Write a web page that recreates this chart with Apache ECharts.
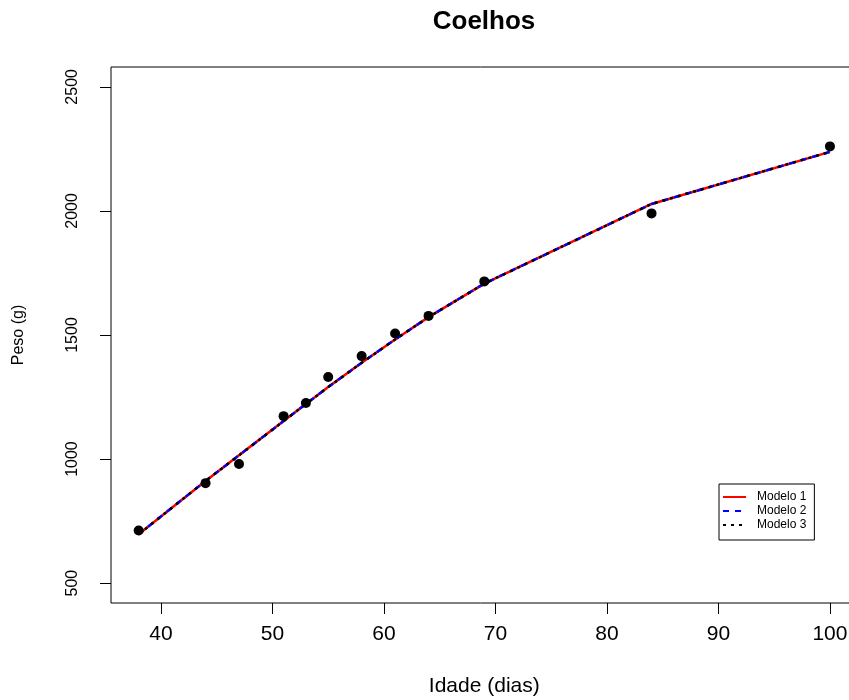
<!DOCTYPE html>
<html>
<head>
<meta charset="utf-8">
<script src="https://cdn.jsdelivr.net/npm/echarts@6/dist/echarts.min.js"></script>
<style>
html,body{margin:0;padding:0;background:#fff;}
#c{width:849px;height:700px;}
</style>
</head>
<body>
<div id="c"></div>
<script>
// Observed data
const idade = [38, 44, 47, 51, 53, 55, 58, 61, 64, 69, 84, 100];
const peso = [712, 903, 980, 1173, 1226, 1331, 1415, 1506, 1577, 1716, 1990, 2260];
// Fitted curves
const modelo1 = [697, 912, 1015, 1153, 1222, 1290, 1388, 1482, 1572, 1707, 2028, 2238];
const modelo2 = [697, 912, 1015, 1153, 1222, 1290, 1388, 1482, 1572, 1707, 2028, 2238];
const modelo3 = [697, 912, 1015, 1153, 1222, 1290, 1388, 1482, 1572, 1707, 2028, 2238];
const xTicks = [40, 50, 60, 70, 80, 90, 100];
const yTicks = [500, 1000, 1500, 2000, 2500];

const pairs = (xs, ys) => xs.map((x, i) => [x, ys[i]]);
const FONT = 'Liberation Sans, Arial, sans-serif';

const chart = echarts.init(document.getElementById('c'), null, {renderer: 'canvas'});
chart.setOption({
  animation: false,
  backgroundColor: '#ffffff',
  title: {
    text: 'Coelhos',
    left: 484, top: 9, textAlign: 'center', padding: 0,
    textStyle: {fontFamily: FONT, fontWeight: 'bold', fontSize: 26, color: '#000'}
  },
  grid: {
    left: 111, top: 67, width: 746.6, height: 536,
    outerBoundsMode: 'none', containLabel: false,
    show: true, borderColor: '#000', borderWidth: 1, backgroundColor: 'transparent'
  },
  xAxis: {
    type: 'value', min: 35.52, max: 102.48,
    name: 'Idade (dias)', nameLocation: 'middle', nameGap: 73,
    nameTextStyle: {fontFamily: FONT, fontSize: 21, color: '#000'},
    axisLine: {show: false},
    splitLine: {show: false},
    axisTick: {show: true, length: 11, customValues: xTicks, lineStyle: {color: '#000'}},
    axisLabel: {customValues: xTicks, margin: 21, fontFamily: FONT, fontSize: 21, color: '#000',
      formatter: v => String(v)}
  },
  yAxis: {
    type: 'value', min: 420, max: 2580,
    name: 'Peso (g)', nameLocation: 'middle', nameGap: 84, nameRotate: 90,
    nameTextStyle: {fontFamily: FONT, fontSize: 16, color: '#000'},
    axisLine: {show: false},
    splitLine: {show: false},
    axisTick: {show: true, length: 11, customValues: yTicks, lineStyle: {color: '#000'}},
    axisLabel: {customValues: yTicks, rotate: 90, margin: 30, fontFamily: FONT, fontSize: 16, color: '#000',
      formatter: v => String(v)}
  },
  legend: {
    orient: 'vertical', left: 719, top: 484,
    data: ['Modelo 1', 'Modelo 2', 'Modelo 3'],
    backgroundColor: '#fff', borderColor: '#000', borderWidth: 1,
    padding: [7, 8, 9, 3], itemGap: 2, itemWidth: 23, itemHeight: 12,
    itemStyle: {opacity: 0},
    textStyle: {fontFamily: FONT, fontSize: 12, color: '#000', padding: [0, 0, 0, 6]}
  },
  series: [
    {
      name: 'Modelo 1', type: 'line', data: pairs(idade, modelo1),
      symbol: 'none', lineStyle: {color: '#ff0000', width: 2.5, type: 'solid'},
      itemStyle: {color: '#ff0000'}, z: 2
    },
    {
      name: 'Modelo 2', type: 'line', data: pairs(idade, modelo2),
      symbol: 'none', lineStyle: {color: '#0000ff', width: 2.5, type: [6, 6]},
      itemStyle: {color: '#0000ff'}, z: 3
    },
    {
      name: 'Modelo 3', type: 'line', data: pairs(idade, modelo3),
      symbol: 'none', lineStyle: {color: '#000000', width: 2.5, type: [3, 5]},
      itemStyle: {color: '#000000'}, z: 4
    },
    {
      name: 'Observado', type: 'scatter', data: pairs(idade, peso),
      symbol: 'circle', symbolSize: 10, itemStyle: {color: '#000', opacity: 1}, z: 5
    }
  ]
});
</script>
</body>
</html>
